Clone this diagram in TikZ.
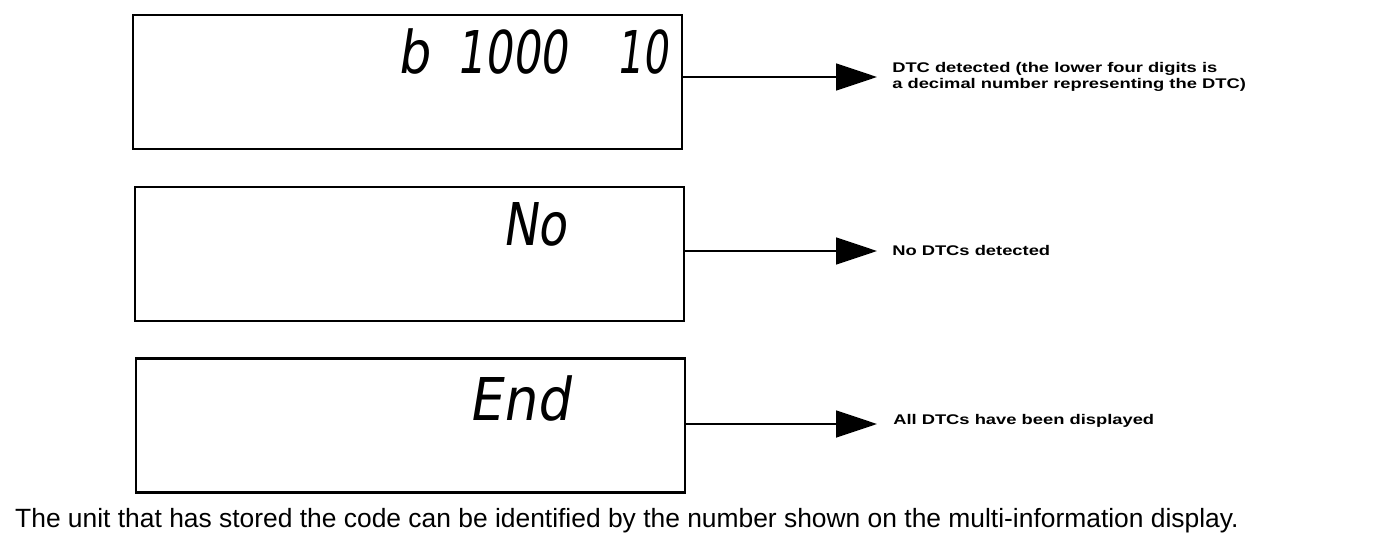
\documentclass[tikz,border=0pt]{standalone}
\usepackage{fontspec}
\setmainfont{Liberation Sans}
\newfontfamily\segfont[FakeSlant=0.18]{DejaVu Sans}
\usetikzlibrary{arrows.meta}
\tikzset{
  display/.style={draw, line width=2.8pt, minimum width=549pt, minimum height=134pt, inner sep=0pt},
  seg/.style={inner sep=0pt, anchor=base east, font=\segfont\fontsize{59}{59}\selectfont},
  lbl/.style={inner sep=0pt, anchor=west, align=left, xscale=1.31, transform shape,
    font=\bfseries\fontsize{14}{15.5}\selectfont},
  conn/.style={line width=1.8pt, -{Triangle[length=41pt,width=27pt]}},
}
\begin{document}
\begin{tikzpicture}[x=1pt,y=-1pt]
\useasboundingbox (0,0) rectangle (1376,554);
% display boxes
\node[display] (b1) at (407.5,82) {};
\node[display] (b2) at (409.5,254) {};
\node[display] (b3) at (410.5,425.5) {};
% display readings
\node[seg] (d1a) at (430,73) {\scalebox{0.85}[1]{b}};
\node[seg] (d1) at (568,73) {\scalebox{0.74}[1]{1000}};
\node[seg] (d1b) at (668,73) {\scalebox{0.68}[1]{10}};
\node[seg] (d2) at (567,245) {\scalebox{0.8}[1]{No}};
\node[seg] (d3) at (570,420) {\scalebox{0.9}[1]{End}};
% labels
\node[lbl] (l1) at (892,77) {DTC detected (the lower four digits is\\a decimal number representing the DTC)};
\node[lbl] (l2) at (892,250) {No DTCs detected};
\node[lbl] (l3) at (893,421) {All DTCs have been displayed};
% arrow tips
\coordinate (t1) at (877,77);
\coordinate (t2) at (877,251);
\coordinate (t3) at (877,424);
\draw[conn] (b1.east |- t1) -- (t1);
\draw[conn] (b2.east |- t2) -- (t2);
\draw[conn] (b3.east |- t3) -- (t3);
% footer
\node[inner sep=0pt, anchor=base west, font=\fontsize{26.4}{26.4}\selectfont] (foot) at (15,527)
  {The unit that has stored the code can be identified by the number shown on the multi-information display.};
\end{tikzpicture}
\end{document}
